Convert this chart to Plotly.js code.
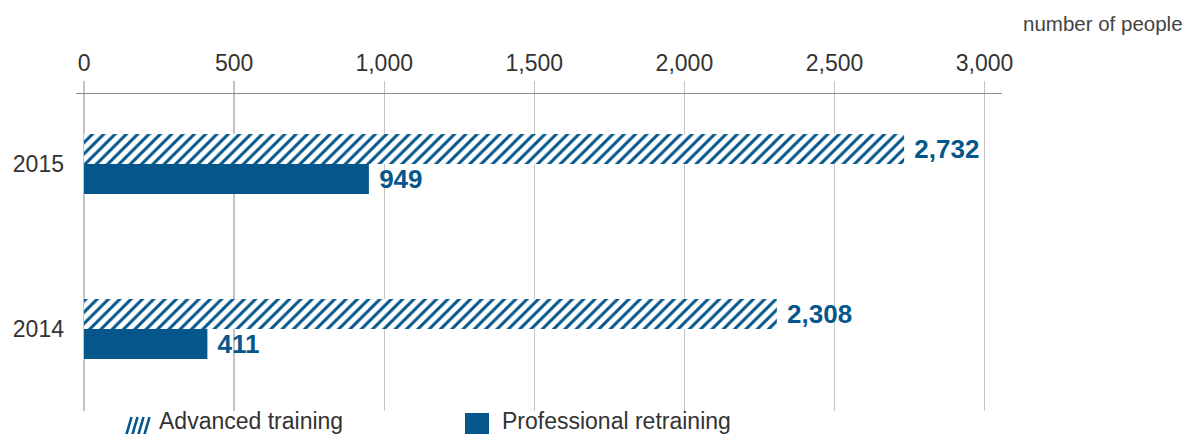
<!DOCTYPE html>
<html>
<head>
<meta charset="utf-8">
<script src="https://cdn.plot.ly/plotly-3.0.1.min.js"></script>
<style>
html,body{margin:0;padding:0;background:#fff;}
#chart{width:1187px;height:434px;}
</style>
</head>
<body>
<div id="chart"></div>
<script>
// ---- data ----
const years = ['2014', '2015'];
const advancedTraining = [2308, 2732];
const professionalRetraining = [411, 949];
const seriesNames = ['Advanced training', 'Professional retraining'];
const xTickVals = [0, 500, 1000, 1500, 2000, 2500, 3000];
const unitLabel = 'number of people';

// ---- styles ----
const BLUE = '#05578b';
const TEXT = '#333333';
const FONT = 'Liberation Sans, Arial, sans-serif';

// plot-area geometry (pixels) used to position the custom legend
const L = 76, R = 1002, T = 94, B = 411;
const px = p => (p - L) / (R - L);
const py = q => (B - q) / (B - T);

const traces = [
  {
    type: 'bar', orientation: 'h',
    name: seriesNames[1],
    y: years, x: professionalRetraining,
    marker: {color: BLUE, line: {width: 0}},
    texttemplate: ' %{x:,}', textposition: 'outside',
    textfont: {family: FONT, size: 26, color: BLUE, weight: 'bold'},
    constraintext: 'none', cliponaxis: false,
    hoverinfo: 'skip'
  },
  {
    type: 'bar', orientation: 'h',
    name: seriesNames[0],
    y: years, x: advancedTraining,
    marker: {
      color: '#ffffff', line: {width: 0},
      pattern: {shape: '/', fgcolor: BLUE, bgcolor: '#ffffff', size: 8, solidity: 0.38, fillmode: 'replace'}
    },
    texttemplate: ' %{x:,}', textposition: 'outside',
    textfont: {family: FONT, size: 26, color: BLUE, weight: 'bold'},
    constraintext: 'none', cliponaxis: false,
    hoverinfo: 'skip'
  }
];

// custom legend
const shapes = [];
[126, 132, 138, 144].forEach(b => {
  shapes.push({type: 'line', xref: 'paper', yref: 'paper',
    x0: px(b), y0: py(436), x1: px(b + 5.5), y1: py(417),
    line: {color: BLUE, width: 2.6}});
});
shapes.push({type: 'rect', xref: 'paper', yref: 'paper',
  x0: px(465), x1: px(489), y0: py(437), y1: py(413),
  fillcolor: BLUE, line: {width: 0}});

const annotations = [
  {xref: 'paper', yref: 'paper', x: px(157), y: py(421), xanchor: 'left', yanchor: 'middle',
   text: seriesNames[0], showarrow: false, font: {family: FONT, size: 23, color: TEXT}},
  {xref: 'paper', yref: 'paper', x: px(500), y: py(421), xanchor: 'left', yanchor: 'middle',
   text: seriesNames[1], showarrow: false, font: {family: FONT, size: 23, color: TEXT}},
  {xref: 'paper', yref: 'paper', x: px(1185), y: py(23), xanchor: 'right', yanchor: 'middle',
   text: unitLabel, showarrow: false, font: {family: FONT, size: 20.5, color: '#444444'}}
];

const layout = {
  width: 1187, height: 434,
  margin: {l: L, r: 1187 - R, t: T, b: 434 - B, autoexpand: false},
  paper_bgcolor: '#ffffff', plot_bgcolor: '#ffffff',
  showlegend: false,
  barmode: 'group', bargap: 0.636, bargroupgap: 0,
  font: {family: FONT, color: TEXT},
  xaxis: {
    side: 'top', range: [-26.7, 3058], tickvals: xTickVals, tickformat: ',',
    showgrid: true, gridcolor: '#c4c4c4', gridwidth: 1.3,
    zeroline: false,
    showline: true, linecolor: '#8c8c8c', linewidth: 1.5,
    ticks: 'outside', ticklen: 12, tickcolor: '#c4c4c4', tickwidth: 1.3,
    tickfont: {family: FONT, size: 23, color: TEXT},
    automargin: false, fixedrange: true
  },
  yaxis: {
    type: 'category', categoryorder: 'array', categoryarray: years,
    range: [-0.497, 1.424],
    showgrid: false, zeroline: false, showline: false, ticks: '',
    tickfont: {family: FONT, size: 23, color: TEXT},
    ticklabelstandoff: 11,
    automargin: false, fixedrange: true
  },
  shapes: shapes,
  annotations: annotations
};

Plotly.newPlot('chart', traces, layout, {displayModeBar: false, staticPlot: true});
</script>
</body>
</html>
